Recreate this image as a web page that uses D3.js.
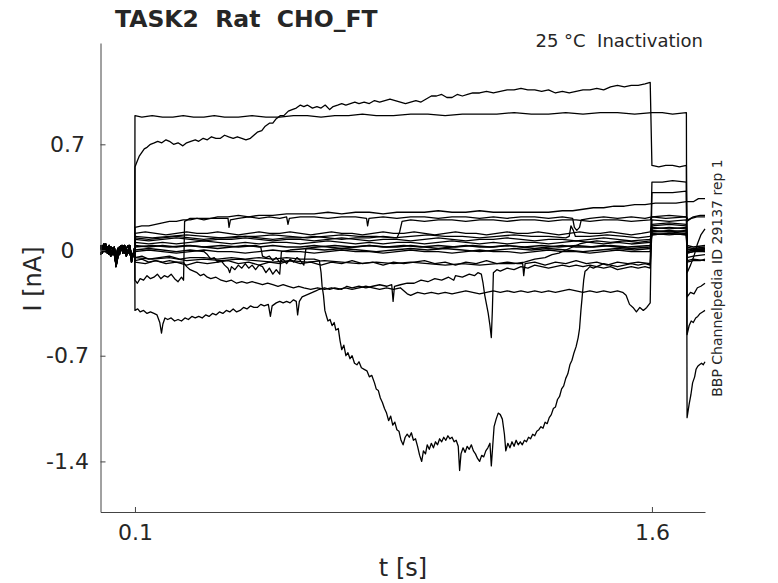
<!DOCTYPE html>
<html>
<head>
<meta charset="utf-8">
<script src="https://cdn.jsdelivr.net/npm/d3@7"></script>
<style>
  body { margin: 0; background: #fff; }
  text { font-family: "DejaVu Sans", sans-serif; fill: #262626; white-space: pre; }
</style>
</head>
<body>
<svg id="chart" width="778" height="583"></svg>
<script>
// ---- data (t in s, I in nA) ----
let yTicks = [-1.4, -0.7, 0, 0.7];
let yTickLabels = ["-1.4", "-0.7", "0", "0.7"];
let xTicks = [0.1, 1.6];
let xTickLabels = ["0.1", "1.6"];

// holding current before the prepulse, shared by the sweeps
let baseT = [0, 0.005, 0.01, 0.015, 0.02, 0.025, 0.03, 0.035, 0.04, 0.045, 0.05, 0.055, 0.06, 0.065, 0.07, 0.075, 0.08, 0.085, 0.09, 0.0995];
let baseA = [0.01, 0.03, -0.01, 0.03, 0.00, -0.03, 0.02, 0.01, -0.03, -0.09, -0.02, 0.02, 0.00, 0.03, -0.02, 0.01, 0.03, -0.02, -0.06, 0.00];
let baseB = [-0.03, 0.00, 0.04, -0.01, 0.02, 0.01, -0.04, 0.00, 0.02, -0.05, 0.01, -0.03, 0.02, 0.00, 0.01, -0.04, 0.00, 0.02, -0.03, -0.02];
let baseC = [0.03, -0.02, 0.01, 0.04, -0.02, 0.03, 0.00, -0.03, 0.01, -0.11, -0.05, 0.00, 0.03, -0.02, 0.03, 0.00, -0.02, 0.03, -0.08, 0.02];

let sweep1 = [[0.1,0.55],[0.105,0.58],[0.112,0.62],[0.118,0.64],[0.127,0.67],[0.135,0.68],[0.145,0.70],[0.156,0.71],[0.166,0.72],[0.178,0.71],[0.19,0.73],[0.2,0.72],[0.212,0.70],[0.225,0.71],[0.239,0.69],[0.25,0.71],[0.262,0.72],[0.275,0.73],[0.285,0.72],[0.298,0.74],[0.31,0.73],[0.322,0.75],[0.335,0.74],[0.348,0.74],[0.36,0.76],[0.372,0.75],[0.385,0.74],[0.397,0.75],[0.41,0.74],[0.422,0.73],[0.435,0.74],[0.445,0.76],[0.455,0.78],[0.468,0.79],[0.478,0.82],[0.49,0.84],[0.5,0.84],[0.51,0.87],[0.522,0.89],[0.532,0.89],[0.545,0.92],[0.556,0.93],[0.568,0.94],[0.58,0.96],[0.59,0.95],[0.6,0.96],[0.615,0.94],[0.628,0.95],[0.64,0.94],[0.652,0.96],[0.665,0.93],[0.675,0.95],[0.688,0.96],[0.7,0.97],[0.712,0.96],[0.725,0.97],[0.738,0.98],[0.75,0.97],[0.765,0.98],[0.78,0.97],[0.795,0.99],[0.81,0.98],[0.825,0.99],[0.84,1.00],[0.855,0.99],[0.87,0.98],[0.885,0.97],[0.9,0.98],[0.915,0.99],[0.93,0.98],[0.945,1.00],[0.96,1.02],[0.975,1.02],[0.99,1.03],[1.005,1.01],[1.02,1.01],[1.035,1.03],[1.05,1.02],[1.065,1.03],[1.08,1.04],[1.1,1.04],[1.12,1.05],[1.14,1.04],[1.16,1.05],[1.18,1.06],[1.2,1.06],[1.22,1.07],[1.24,1.06],[1.26,1.06],[1.28,1.05],[1.3,1.06],[1.32,1.04],[1.34,1.05],[1.36,1.04],[1.38,1.05],[1.4,1.06],[1.42,1.06],[1.44,1.07],[1.46,1.06],[1.48,1.08],[1.5,1.09],[1.52,1.08],[1.54,1.09],[1.56,1.09],[1.58,1.10],[1.595,1.11],[1.6,0.56],[1.62,0.55],[1.64,0.56],[1.66,0.56],[1.68,0.55],[1.7,0.56],[1.702,-0.56],[1.708,-0.50],[1.714,-0.47],[1.72,-0.48],[1.727,-0.45],[1.733,-0.44],[1.74,-0.42],[1.747,-0.41],[1.754,-0.40]];

let sweep2 = [[0.1,0.89],[0.12,0.88],[0.15,0.89],[0.18,0.88],[0.21,0.88],[0.24,0.89],[0.27,0.88],[0.3,0.88],[0.33,0.89],[0.36,0.88],[0.4,0.88],[0.44,0.89],[0.48,0.88],[0.52,0.88],[0.56,0.89],[0.6,0.89],[0.64,0.88],[0.68,0.89],[0.72,0.89],[0.76,0.90],[0.8,0.89],[0.85,0.89],[0.9,0.90],[0.95,0.90],[1.0,0.89],[1.05,0.90],[1.1,0.90],[1.15,0.90],[1.2,0.91],[1.25,0.90],[1.3,0.90],[1.35,0.91],[1.4,0.90],[1.45,0.91],[1.5,0.91],[1.55,0.90],[1.6,0.91],[1.63,0.91],[1.66,0.90],[1.7,0.91],[1.702,-1.11],[1.708,-1.02],[1.713,-0.96],[1.718,-0.88],[1.724,-0.84],[1.728,-0.79],[1.733,-0.77],[1.738,-0.76],[1.744,-0.75],[1.749,-0.76],[1.754,-0.74]];

let sweep3 = [[0.1,-0.05],[0.12,-0.04],[0.14,-0.06],[0.17,-0.05],[0.2,-0.04],[0.23,-0.06],[0.26,-0.05],[0.3,-0.05],[0.34,-0.06],[0.38,-0.05],[0.42,-0.06],[0.46,-0.05],[0.5,-0.06],[0.54,-0.05],[0.58,-0.06],[0.62,-0.06],[0.635,-0.07],[0.64,-0.15],[0.643,-0.24],[0.647,-0.30],[0.651,-0.40],[0.656,-0.44],[0.66,-0.47],[0.666,-0.46],[0.672,-0.50],[0.678,-0.48],[0.683,-0.53],[0.69,-0.52],[0.695,-0.60],[0.7,-0.66],[0.706,-0.63],[0.712,-0.70],[0.718,-0.68],[0.724,-0.72],[0.73,-0.70],[0.737,-0.75],[0.744,-0.76],[0.75,-0.74],[0.757,-0.78],[0.765,-0.79],[0.773,-0.80],[0.78,-0.84],[0.787,-0.83],[0.795,-0.88],[0.8,-0.92],[0.806,-0.93],[0.812,-0.98],[0.818,-1.01],[0.824,-1.05],[0.83,-1.08],[0.836,-1.13],[0.842,-1.10],[0.848,-1.16],[0.854,-1.14],[0.86,-1.19],[0.866,-1.20],[0.872,-1.26],[0.878,-1.29],[0.884,-1.24],[0.89,-1.22],[0.896,-1.24],[0.902,-1.21],[0.908,-1.26],[0.914,-1.25],[0.92,-1.30],[0.926,-1.36],[0.932,-1.40],[0.937,-1.33],[0.943,-1.35],[0.948,-1.29],[0.954,-1.32],[0.96,-1.28],[0.966,-1.31],[0.972,-1.27],[0.978,-1.29],[0.984,-1.25],[0.99,-1.27],[0.996,-1.24],[1.002,-1.26],[1.008,-1.23],[1.014,-1.25],[1.02,-1.24],[1.026,-1.27],[1.032,-1.26],[1.038,-1.30],[1.042,-1.46],[1.046,-1.35],[1.052,-1.31],[1.058,-1.34],[1.064,-1.30],[1.07,-1.32],[1.076,-1.29],[1.082,-1.33],[1.088,-1.35],[1.094,-1.38],[1.1,-1.40],[1.106,-1.36],[1.112,-1.37],[1.118,-1.33],[1.124,-1.31],[1.13,-1.28],[1.134,-1.43],[1.138,-1.30],[1.142,-1.17],[1.148,-1.12],[1.154,-1.08],[1.16,-1.09],[1.166,-1.12],[1.172,-1.22],[1.176,-1.33],[1.182,-1.28],[1.188,-1.31],[1.194,-1.27],[1.2,-1.30],[1.206,-1.26],[1.212,-1.29],[1.218,-1.27],[1.224,-1.29],[1.23,-1.26],[1.236,-1.27],[1.242,-1.24],[1.248,-1.25],[1.254,-1.22],[1.26,-1.23],[1.266,-1.20],[1.272,-1.19],[1.278,-1.17],[1.284,-1.18],[1.29,-1.14],[1.296,-1.15],[1.302,-1.11],[1.308,-1.09],[1.314,-1.05],[1.32,-1.04],[1.326,-0.99],[1.332,-0.97],[1.338,-0.92],[1.344,-0.90],[1.35,-0.85],[1.356,-0.82],[1.362,-0.76],[1.368,-0.73],[1.374,-0.68],[1.38,-0.64],[1.386,-0.58],[1.39,-0.52],[1.394,-0.40],[1.398,-0.30],[1.402,-0.20],[1.406,-0.14],[1.412,-0.13],[1.42,-0.11],[1.43,-0.12],[1.44,-0.11],[1.46,-0.12],[1.48,-0.11],[1.5,-0.13],[1.52,-0.12],[1.54,-0.11],[1.56,-0.12],[1.58,-0.11],[1.595,-0.12],[1.6,0.12],[1.65,0.13],[1.7,0.12],[1.702,-0.01],[1.72,0.0],[1.754,0.01]];

let sweep4 = [[0.1,0.15],[0.12,0.16],[0.14,0.16],[0.16,0.17],[0.18,0.18],[0.2,0.19],[0.22,0.19],[0.24,0.20],[0.26,0.20],[0.28,0.21],[0.3,0.21],[0.32,0.21],[0.34,0.22],[0.37,0.22],[0.4,0.23],[0.43,0.22],[0.46,0.23],[0.5,0.23],[0.54,0.24],[0.58,0.24],[0.62,0.24],[0.66,0.25],[0.7,0.24],[0.74,0.25],[0.78,0.25],[0.82,0.24],[0.86,0.25],[0.9,0.25],[0.94,0.25],[0.98,0.26],[1.02,0.25],[1.06,0.25],[1.1,0.26],[1.14,0.25],[1.18,0.25],[1.22,0.25],[1.26,0.25],[1.3,0.25],[1.34,0.26],[1.37,0.26],[1.4,0.27],[1.43,0.28],[1.46,0.28],[1.49,0.29],[1.52,0.29],[1.55,0.30],[1.58,0.30],[1.61,0.31],[1.64,0.31],[1.67,0.31],[1.7,0.32],[1.72,0.32],[1.735,0.34],[1.754,0.34]];

let sweep5 = [[0.1,-0.20],[0.107,-0.22],[0.115,-0.19],[0.125,-0.20],[0.135,-0.17],[0.145,-0.19],[0.155,-0.18],[0.165,-0.16],[0.175,-0.19],[0.185,-0.17],[0.195,-0.18],[0.205,-0.16],[0.215,-0.19],[0.225,-0.21],[0.235,-0.18],[0.241,-0.20],[0.244,0.19],[0.26,0.21],[0.28,0.21],[0.3,0.20],[0.32,0.21],[0.35,0.21],[0.37,0.21],[0.373,0.15],[0.377,0.20],[0.4,0.21],[0.43,0.22],[0.46,0.21],[0.49,0.22],[0.52,0.21],[0.54,0.22],[0.544,0.17],[0.548,0.21],[0.58,0.22],[0.62,0.22],[0.66,0.21],[0.7,0.22],[0.74,0.22],[0.772,0.21],[0.775,0.16],[0.779,0.21],[0.82,0.22],[0.86,0.21],[0.9,0.22],[0.94,0.22],[0.98,0.21],[1.02,0.22],[1.06,0.22],[1.1,0.21],[1.14,0.22],[1.18,0.21],[1.22,0.22],[1.26,0.22],[1.3,0.21],[1.34,0.22],[1.37,0.21],[1.375,0.15],[1.382,0.13],[1.39,0.15],[1.395,0.20],[1.42,0.21],[1.46,0.22],[1.5,0.21],[1.54,0.22],[1.58,0.21],[1.6,0.22],[1.64,0.21],[1.7,0.22],[1.705,0.20],[1.72,0.22],[1.74,0.23],[1.754,0.23]];

let sweep6 = [[0.1,-0.40],[0.108,-0.39],[0.115,-0.41],[0.125,-0.40],[0.135,-0.42],[0.145,-0.41],[0.155,-0.42],[0.164,-0.43],[0.172,-0.48],[0.177,-0.55],[0.181,-0.49],[0.187,-0.45],[0.195,-0.46],[0.205,-0.45],[0.215,-0.47],[0.225,-0.46],[0.235,-0.47],[0.245,-0.45],[0.255,-0.46],[0.265,-0.44],[0.275,-0.45],[0.285,-0.44],[0.295,-0.45],[0.305,-0.43],[0.315,-0.44],[0.325,-0.42],[0.335,-0.43],[0.345,-0.41],[0.355,-0.42],[0.365,-0.40],[0.375,-0.41],[0.385,-0.39],[0.395,-0.41],[0.405,-0.40],[0.415,-0.38],[0.425,-0.39],[0.435,-0.37],[0.445,-0.38],[0.455,-0.38],[0.465,-0.36],[0.475,-0.37],[0.487,-0.36],[0.493,-0.44],[0.498,-0.37],[0.51,-0.35],[0.52,-0.34],[0.53,-0.35],[0.54,-0.34],[0.55,-0.35],[0.56,-0.33],[0.568,-0.34],[0.572,-0.43],[0.577,-0.34],[0.585,-0.31],[0.595,-0.30],[0.605,-0.29],[0.615,-0.28],[0.625,-0.27],[0.635,-0.26],[0.65,-0.25],[0.665,-0.26],[0.68,-0.25],[0.7,-0.26],[0.715,-0.24],[0.73,-0.25],[0.75,-0.24],[0.77,-0.25],[0.79,-0.24],[0.81,-0.23],[0.83,-0.24],[0.845,-0.23],[0.849,-0.34],[0.853,-0.24],[0.87,-0.23],[0.89,-0.22],[0.91,-0.22],[0.93,-0.20],[0.95,-0.21],[0.97,-0.19],[0.99,-0.20],[1.01,-0.18],[1.025,-0.20],[1.03,-0.17],[1.05,-0.18],[1.07,-0.16],[1.085,-0.17],[1.095,-0.15],[1.105,-0.16],[1.11,-0.22],[1.115,-0.30],[1.12,-0.36],[1.125,-0.42],[1.13,-0.50],[1.134,-0.58],[1.137,-0.40],[1.14,-0.15],[1.15,-0.13],[1.16,-0.14],[1.18,-0.12],[1.2,-0.13],[1.22,-0.11],[1.24,-0.12],[1.26,-0.10],[1.28,-0.11],[1.3,-0.12],[1.32,-0.11],[1.34,-0.10],[1.36,-0.11],[1.38,-0.10],[1.4,-0.11],[1.42,-0.10],[1.44,-0.11],[1.46,-0.09],[1.48,-0.10],[1.5,-0.11],[1.52,-0.10],[1.54,-0.09],[1.56,-0.10],[1.58,-0.09],[1.595,-0.10],[1.6,0.45],[1.63,0.45],[1.66,0.46],[1.7,0.45],[1.702,-0.31],[1.712,-0.28],[1.722,-0.29],[1.732,-0.25],[1.742,-0.24],[1.754,-0.22]];

let sweep7 = [[0.1,-0.07],[0.12,-0.06],[0.14,-0.08],[0.16,-0.07],[0.18,-0.08],[0.2,-0.07],[0.22,-0.08],[0.24,-0.08],[0.25,-0.11],[0.26,-0.13],[0.27,-0.14],[0.28,-0.15],[0.29,-0.17],[0.3,-0.16],[0.31,-0.18],[0.32,-0.19],[0.335,-0.18],[0.35,-0.20],[0.365,-0.21],[0.38,-0.20],[0.395,-0.22],[0.41,-0.21],[0.425,-0.22],[0.44,-0.21],[0.455,-0.22],[0.47,-0.23],[0.485,-0.22],[0.5,-0.23],[0.515,-0.24],[0.53,-0.23],[0.545,-0.24],[0.56,-0.25],[0.575,-0.24],[0.59,-0.25],[0.61,-0.26],[0.63,-0.25],[0.65,-0.26],[0.67,-0.25],[0.69,-0.26],[0.71,-0.25],[0.73,-0.26],[0.75,-0.25],[0.77,-0.24],[0.79,-0.25],[0.81,-0.26],[0.83,-0.25],[0.85,-0.26],[0.87,-0.25],[0.88,-0.27],[0.89,-0.29],[0.9,-0.30],[0.92,-0.28],[0.94,-0.29],[0.96,-0.28],[0.98,-0.29],[1.0,-0.28],[1.02,-0.29],[1.04,-0.28],[1.06,-0.27],[1.08,-0.28],[1.1,-0.29],[1.12,-0.28],[1.14,-0.27],[1.16,-0.28],[1.18,-0.27],[1.2,-0.28],[1.22,-0.27],[1.24,-0.28],[1.26,-0.27],[1.28,-0.28],[1.3,-0.27],[1.32,-0.28],[1.34,-0.27],[1.36,-0.26],[1.38,-0.27],[1.4,-0.28],[1.42,-0.27],[1.44,-0.28],[1.46,-0.27],[1.48,-0.28],[1.5,-0.27],[1.515,-0.28],[1.525,-0.30],[1.535,-0.36],[1.545,-0.38],[1.555,-0.41],[1.565,-0.38],[1.575,-0.40],[1.585,-0.38],[1.595,-0.35],[1.6,0.38],[1.63,0.38],[1.66,0.38],[1.7,0.39],[1.702,-0.08],[1.72,-0.07],[1.74,-0.07],[1.754,-0.06]];

let sweep8 = [[0.1,-0.08],[0.13,-0.09],[0.16,-0.07],[0.19,-0.09],[0.22,-0.08],[0.25,-0.10],[0.28,-0.08],[0.31,-0.09],[0.34,-0.08],[0.37,-0.07],[0.4,-0.09],[0.43,-0.08],[0.46,-0.10],[0.49,-0.08],[0.52,-0.09],[0.55,-0.07],[0.58,-0.09],[0.61,-0.08],[0.64,-0.10],[0.67,-0.08],[0.7,-0.09],[0.73,-0.07],[0.76,-0.09],[0.79,-0.08],[0.82,-0.10],[0.85,-0.08],[0.88,-0.09],[0.91,-0.08],[0.94,-0.07],[0.97,-0.09],[1.0,-0.08],[1.03,-0.10],[1.06,-0.08],[1.09,-0.09],[1.12,-0.07],[1.15,-0.09],[1.18,-0.08],[1.21,-0.09],[1.225,-0.09],[1.228,-0.17],[1.232,-0.09],[1.26,-0.08],[1.29,-0.10],[1.32,-0.08],[1.35,-0.09],[1.38,-0.07],[1.41,-0.09],[1.44,-0.08],[1.47,-0.10],[1.5,-0.08],[1.53,-0.09],[1.56,-0.08],[1.595,-0.09],[1.6,0.20],[1.65,0.19],[1.7,0.20],[1.702,-0.02],[1.72,-0.01],[1.754,0.0]];

let sweep9 = [[0.1,-0.05],[0.15,-0.06],[0.2,-0.05],[0.25,-0.07],[0.3,-0.06],[0.35,-0.07],[0.4,-0.06],[0.45,-0.07],[0.5,-0.08],[0.55,-0.07],[0.6,-0.08],[0.65,-0.07],[0.7,-0.08],[0.75,-0.09],[0.8,-0.08],[0.85,-0.09],[0.9,-0.08],[0.95,-0.09],[1.0,-0.10],[1.05,-0.09],[1.1,-0.10],[1.15,-0.09],[1.2,-0.09],[1.23,-0.08],[1.26,-0.06],[1.29,-0.05],[1.31,-0.03],[1.33,-0.02],[1.35,0.0],[1.37,0.02],[1.39,0.04],[1.41,0.05],[1.44,0.06],[1.48,0.05],[1.52,0.06],[1.56,0.05],[1.595,0.06],[1.6,0.14],[1.65,0.15],[1.7,0.14],[1.702,-0.05],[1.72,-0.04],[1.754,-0.03]];

let sweep10 = [[0.1,0.11],[0.13,0.12],[0.16,0.11],[0.19,0.10],[0.22,0.11],[0.25,0.12],[0.28,0.11],[0.31,0.11],[0.34,0.12],[0.37,0.11],[0.4,0.10],[0.43,0.11],[0.46,0.12],[0.49,0.11],[0.52,0.11],[0.55,0.12],[0.58,0.11],[0.61,0.10],[0.64,0.11],[0.67,0.12],[0.7,0.11],[0.73,0.11],[0.76,0.10],[0.79,0.11],[0.82,0.12],[0.85,0.11],[0.88,0.11],[0.91,0.12],[0.94,0.11],[0.97,0.10],[1.0,0.11],[1.03,0.12],[1.06,0.11],[1.09,0.11],[1.12,0.10],[1.15,0.11],[1.18,0.12],[1.21,0.11],[1.24,0.11],[1.27,0.12],[1.3,0.11],[1.33,0.10],[1.36,0.11],[1.39,0.12],[1.42,0.11],[1.45,0.11],[1.48,0.12],[1.51,0.11],[1.54,0.10],[1.57,0.11],[1.595,0.12],[1.6,0.17],[1.65,0.18],[1.7,0.17],[1.702,-0.15],[1.712,-0.10],[1.722,-0.04],[1.732,0.04],[1.742,0.10],[1.754,0.14]];

let sweep11 = [[0.1,0.09],[0.15,0.08],[0.2,0.09],[0.25,0.10],[0.3,0.09],[0.35,0.08],[0.4,0.09],[0.45,0.09],[0.5,0.10],[0.55,0.09],[0.6,0.08],[0.65,0.09],[0.7,0.10],[0.75,0.09],[0.8,0.09],[0.85,0.08],[0.9,0.09],[0.95,0.10],[1.0,0.09],[1.05,0.09],[1.1,0.08],[1.15,0.09],[1.2,0.10],[1.25,0.09],[1.3,0.09],[1.35,0.08],[1.36,0.09],[1.365,0.16],[1.372,0.13],[1.378,0.09],[1.42,0.09],[1.47,0.10],[1.52,0.09],[1.56,0.08],[1.595,0.09],[1.6,0.13],[1.65,0.12],[1.7,0.13],[1.702,0.01],[1.72,0.0],[1.754,0.01]];

let sweep12 = [[0.1,0.07],[0.14,0.06],[0.18,0.07],[0.22,0.08],[0.26,0.07],[0.3,0.06],[0.34,0.07],[0.38,0.07],[0.42,0.08],[0.46,0.07],[0.5,0.06],[0.54,0.07],[0.58,0.07],[0.62,0.06],[0.66,0.07],[0.7,0.08],[0.74,0.07],[0.78,0.06],[0.82,0.07],[0.86,0.07],[0.9,0.06],[0.94,0.07],[0.98,0.08],[1.02,0.07],[1.06,0.06],[1.1,0.07],[1.14,0.07],[1.18,0.08],[1.22,0.07],[1.26,0.06],[1.3,0.07],[1.34,0.07],[1.38,0.06],[1.42,0.07],[1.46,0.08],[1.5,0.07],[1.54,0.06],[1.595,0.07],[1.6,0.11],[1.65,0.10],[1.7,0.11],[1.702,0.02],[1.72,0.01],[1.754,0.02]];

let sweep13 = [[0.1,0.05],[0.14,0.04],[0.18,0.05],[0.22,0.04],[0.26,0.05],[0.3,0.06],[0.34,0.05],[0.38,0.04],[0.42,0.05],[0.46,0.04],[0.5,0.05],[0.54,0.05],[0.58,0.04],[0.62,0.05],[0.66,0.06],[0.7,0.05],[0.74,0.04],[0.78,0.05],[0.82,0.04],[0.86,0.05],[0.9,0.05],[0.94,0.04],[0.98,0.05],[1.02,0.06],[1.06,0.05],[1.1,0.04],[1.14,0.05],[1.18,0.04],[1.22,0.05],[1.26,0.05],[1.3,0.04],[1.34,0.05],[1.38,0.06],[1.42,0.05],[1.46,0.04],[1.5,0.05],[1.54,0.04],[1.595,0.05],[1.6,0.10],[1.65,0.11],[1.7,0.10],[1.702,-0.01],[1.72,0.0],[1.754,-0.01]];

let sweep14 = [[0.1,0.03],[0.14,0.02],[0.18,0.03],[0.22,0.02],[0.26,0.03],[0.3,0.02],[0.34,0.01],[0.38,0.02],[0.42,0.03],[0.46,0.02],[0.5,0.03],[0.54,0.02],[0.58,0.02],[0.62,0.03],[0.66,0.02],[0.7,0.01],[0.74,0.02],[0.78,0.03],[0.82,0.02],[0.86,0.02],[0.9,0.03],[0.94,0.02],[0.98,0.01],[1.02,0.02],[1.06,0.03],[1.1,0.02],[1.14,0.02],[1.18,0.03],[1.22,0.02],[1.26,0.01],[1.3,0.02],[1.34,0.03],[1.38,0.02],[1.42,0.02],[1.46,0.03],[1.5,0.02],[1.54,0.01],[1.595,0.02],[1.6,0.12],[1.65,0.12],[1.7,0.11],[1.702,-0.07],[1.72,-0.06],[1.754,-0.07]];

let sweep15 = [[0.1,-0.01],[0.14,0.0],[0.18,-0.01],[0.22,-0.02],[0.26,-0.01],[0.3,0.0],[0.34,-0.01],[0.38,-0.01],[0.42,-0.02],[0.46,-0.01],[0.5,0.0],[0.54,-0.01],[0.58,-0.01],[0.62,-0.02],[0.66,-0.01],[0.7,0.0],[0.74,-0.01],[0.78,-0.01],[0.82,-0.02],[0.86,-0.01],[0.9,0.0],[0.94,-0.01],[0.98,-0.01],[1.02,-0.02],[1.06,-0.01],[1.1,0.0],[1.14,-0.01],[1.18,-0.01],[1.22,-0.02],[1.26,-0.01],[1.3,0.0],[1.34,-0.01],[1.38,-0.01],[1.42,-0.02],[1.46,-0.01],[1.5,0.0],[1.54,-0.01],[1.595,-0.01],[1.6,0.16],[1.65,0.17],[1.7,0.16],[1.702,0.03],[1.72,0.02],[1.754,0.03]];

let sweep16 = [[0.1,0.08],[0.14,0.07],[0.18,0.08],[0.22,0.09],[0.26,0.08],[0.3,0.07],[0.34,0.08],[0.38,0.08],[0.42,0.09],[0.46,0.08],[0.5,0.07],[0.54,0.08],[0.58,0.08],[0.62,0.09],[0.66,0.08],[0.7,0.07],[0.74,0.08],[0.78,0.08],[0.82,0.09],[0.86,0.08],[0.868,0.12],[0.875,0.19],[0.9,0.20],[0.94,0.19],[0.98,0.20],[1.02,0.20],[1.06,0.19],[1.1,0.20],[1.14,0.20],[1.18,0.19],[1.22,0.20],[1.26,0.20],[1.3,0.19],[1.34,0.20],[1.38,0.20],[1.42,0.19],[1.46,0.20],[1.5,0.20],[1.54,0.19],[1.595,0.20],[1.6,0.22],[1.65,0.23],[1.7,0.22],[1.702,0.19],[1.715,0.21],[1.73,0.22],[1.754,0.22]];

let sweep17 = [[0.1,0.0],[0.14,0.01],[0.18,0.0],[0.22,-0.01],[0.26,0.0],[0.3,-0.01],[0.31,-0.03],[0.32,-0.06],[0.33,-0.05],[0.34,-0.08],[0.35,-0.07],[0.36,-0.10],[0.37,-0.12],[0.375,-0.15],[0.38,-0.11],[0.39,-0.13],[0.4,-0.10],[0.41,-0.12],[0.42,-0.09],[0.43,-0.12],[0.44,-0.10],[0.45,-0.13],[0.46,-0.10],[0.47,-0.11],[0.48,-0.15],[0.49,-0.12],[0.5,-0.16],[0.51,-0.13],[0.52,-0.16],[0.525,-0.01],[0.55,0.0],[0.6,0.01],[0.65,0.0],[0.7,0.01],[0.75,0.0],[0.8,-0.01],[0.85,0.0],[0.9,0.01],[0.95,0.0],[1.0,0.01],[1.05,0.0],[1.1,-0.01],[1.15,0.0],[1.2,0.01],[1.25,0.0],[1.3,0.01],[1.35,0.0],[1.4,-0.01],[1.45,0.0],[1.5,0.01],[1.55,0.0],[1.595,0.01],[1.6,0.10],[1.65,0.11],[1.7,0.10],[1.702,-0.02],[1.72,-0.01],[1.754,-0.01]];

let sweep18 = [[0.1,0.02],[0.15,0.03],[0.2,0.02],[0.25,0.03],[0.3,0.02],[0.35,0.03],[0.4,0.02],[0.45,0.03],[0.465,0.02],[0.47,-0.04],[0.48,-0.05],[0.49,-0.04],[0.5,-0.07],[0.51,-0.05],[0.52,-0.08],[0.53,-0.06],[0.54,-0.09],[0.55,-0.06],[0.56,-0.08],[0.57,-0.05],[0.58,-0.07],[0.59,-0.10],[0.596,0.01],[0.63,0.02],[0.68,0.03],[0.73,0.02],[0.78,0.03],[0.83,0.02],[0.88,0.03],[0.93,0.02],[0.98,0.03],[1.03,0.02],[1.08,0.03],[1.13,0.02],[1.18,0.03],[1.23,0.02],[1.28,0.03],[1.33,0.02],[1.38,0.03],[1.43,0.02],[1.48,0.03],[1.53,0.02],[1.595,0.03],[1.6,0.15],[1.65,0.14],[1.7,0.15],[1.702,0.0],[1.72,0.01],[1.754,0.0]];

let sweeps = [sweep1, sweep2, sweep3, sweep4, sweep5, sweep6, sweep7, sweep8, sweep9,
              sweep10, sweep11, sweep12, sweep13, sweep14, sweep15, sweep16, sweep17, sweep18];
let baselines = [baseA, baseB, baseC];

// ---- drawing ----
const svg = d3.select("#chart");

const x = d3.scaleLinear().domain([0, 1.754]).range([100.5, 705]);
const y = d3.scaleLinear().domain([-1.735, 1.371]).range([512, 43]);

const line = d3.line()
    .x(d => x(d[0]))
    .y(d => y(d[1]));

const traces = svg.append("g").attr("class", "traces");

sweeps.forEach(function(sw, i){
    let base = baselines[i % 3];
    let pts = baseT.map((t, j) => [t, base[j]]).concat(sw);
    traces.append("path")
        .datum(pts)
        .attr("d", line)
        .attr("fill", "none")
        .attr("stroke", "#000")
        .attr("stroke-width", 1.3)
        .attr("stroke-linejoin", "round");
});

// y axis
const yAxis = svg.append("g")
    .attr("transform", "translate(100.5,0)")
    .call(d3.axisLeft(y)
        .tickValues(yTicks)
        .tickFormat((d, i) => yTickLabels[i])
        .tickSizeInner(-5)
        .tickSizeOuter(0)
        .tickPadding(33));
yAxis.selectAll("text")
    .attr("text-anchor", "middle")
    .style("font-size", "22px")
    .style("font-family", "DejaVu Sans, sans-serif")
    .attr("fill", "#262626");

// x axis
const xAxis = svg.append("g")
    .attr("transform", "translate(0,512)")
    .call(d3.axisBottom(x)
        .tickValues(xTicks)
        .tickFormat((d, i) => xTickLabels[i])
        .tickSizeInner(-5)
        .tickSizeOuter(0)
        .tickPadding(12));
xAxis.selectAll("text")
    .style("font-size", "22px")
    .style("font-family", "DejaVu Sans, sans-serif")
    .attr("fill", "#262626");

svg.selectAll(".domain, .tick line").attr("stroke", "#444").attr("stroke-width", 1);

// labels
svg.append("text")
    .attr("x", 403).attr("y", 576)
    .attr("text-anchor", "middle")
    .style("font-size", "24px")
    .text("t [s]");

svg.append("text")
    .attr("transform", "translate(41,279) rotate(-90)")
    .attr("text-anchor", "middle")
    .style("font-size", "24px")
    .text("I [nA]");

svg.append("text")
    .attr("x", 115).attr("y", 27)
    .attr("xml:space", "preserve")
    .style("font-size", "23.5px")
    .style("font-weight", "bold")
    .attr("fill", "#000")
    .text("TASK2  Rat  CHO_FT");

svg.append("text")
    .attr("x", 703).attr("y", 47)
    .attr("xml:space", "preserve")
    .attr("text-anchor", "end")
    .style("font-size", "18px")
    .attr("fill", "#000")
    .text("25 °C  Inactivation");

svg.append("text")
    .attr("transform", "translate(722,278) rotate(-90)")
    .attr("text-anchor", "middle")
    .style("font-size", "14px")
    .attr("fill", "#000")
    .text("BBP Channelpedia ID 29137 rep 1");
</script>
</body>
</html>
